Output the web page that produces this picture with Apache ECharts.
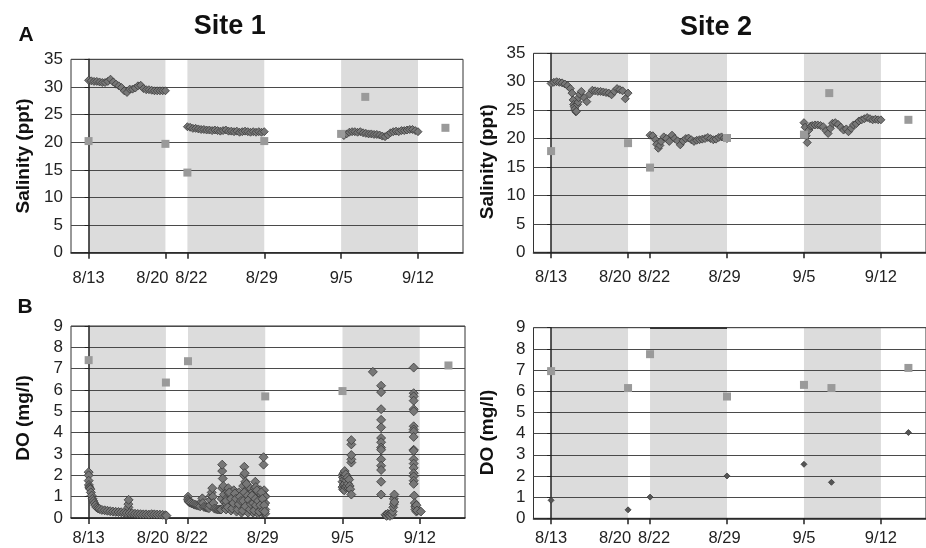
<!DOCTYPE html>
<html><head><meta charset="utf-8">
<script src="https://cdn.jsdelivr.net/npm/echarts@6/dist/echarts.min.js"></script>
<style>html,body{margin:0;padding:0;background:#fff}#c{width:926px;height:548px}</style>
</head><body><div id="c"></div>
<script>
// ---- tick days (days after 8/13) and labels ----
const tickDays = [0, 7, 9, 16, 23, 30];
const tickLabels = ['8/13', '8/20', '8/22', '8/29', '9/5', '9/12'];
// shaded deployment periods [startDay, endDay]
const shadeSpans = [[0, 7], [9, 16], [23, 30]];

// ---- Site 1 salinity ----
const site1SalLogger = [
[0,31.2],[0.25,31.1],[0.5,31.0],[0.75,31.0],[1.0,30.9],[1.25,30.8],[1.5,30.8],[1.75,31.0],[2.0,31.4],[2.25,30.9],[2.5,30.5],[2.75,30.2],[3.0,29.9],[3.25,29.3],[3.5,29.0],[3.75,29.6],[4.0,29.6],[4.25,29.8],[4.5,30.2],[4.75,30.3],[5.0,29.7],[5.25,29.5],[5.5,29.5],[5.75,29.4],[6.0,29.3],[6.25,29.3],[6.5,29.3],[6.75,29.3],[7.0,29.3],
[9,22.8],[9.25,22.7],[9.5,22.5],[9.75,22.5],[10,22.4],[10.25,22.3],[10.5,22.3],[10.75,22.2],[11,22.2],[11.25,22.1],[11.5,22.2],[11.75,22.1],[12,22.0],[12.25,22.1],[12.5,22.2],[12.75,22.0],[13,22.0],[13.25,21.9],[13.5,22.0],[13.75,21.8],[14,21.9],[14.25,22.0],[14.5,21.9],[14.75,21.8],[15,21.9],[15.25,21.8],[15.5,21.9],[15.75,21.8],[16,21.9],
[23.25,21.2],[23.5,21.5],[23.75,21.8],[24,21.9],[24.25,21.9],[24.5,21.8],[24.75,21.9],[25,21.7],[25.25,21.6],[25.5,21.5],[25.75,21.5],[26,21.4],[26.25,21.4],[26.5,21.3],[26.75,21.1],[27,21.0],[27.25,21.3],[27.5,21.7],[27.75,21.9],[28,22.0],[28.25,21.9],[28.5,22.1],[28.75,22.1],[29,22.2],[29.25,22.3],[29.5,22.3],[29.75,22.1],[30,21.9]
];
const site1SalSamples = [[0,20.2],[7,19.7],[9,14.5],[16,20.2],[23,21.5],[25.2,28.2],[32.5,22.6]];

// ---- Site 2 salinity ----
const site2SalLogger = [
[0,29.7],[0.25,29.9],[0.5,30.0],[0.75,29.9],[1.0,29.8],[1.25,29.6],[1.5,29.3],[1.75,28.8],[1.9,28.0],[2.0,26.8],[2.05,26.0],[2.1,25.6],[2.15,25.2],[2.25,24.7],[2.3,24.8],[2.4,26.0],[2.45,26.4],[2.5,27.2],[2.6,27.8],[2.75,28.3],[3.0,27.2],[3.25,26.5],[3.5,27.8],[3.75,28.5],[4.0,28.4],[4.25,28.3],[4.5,28.3],[4.75,28.2],[5.0,28.1],[5.25,28.0],[5.5,27.7],[5.75,28.3],[6.0,28.8],[6.25,28.6],[6.5,28.4],[6.75,27.0],[7.0,28.0],
[9,20.6],[9.25,20.5],[9.5,19.8],[9.6,19.0],[9.75,18.3],[9.9,18.8],[10,19.5],[10.25,20.3],[10.5,20.0],[10.75,19.5],[11,20.6],[11.25,20.0],[11.5,19.6],[11.75,18.9],[12,19.6],[12.25,20.0],[12.5,20.1],[12.75,19.8],[13,19.5],[13.25,19.7],[13.5,19.8],[13.75,19.9],[14,20.0],[14.25,20.2],[14.5,20.0],[14.75,19.8],[15,19.9],[15.25,20.2],[15.5,20.3],[15.75,20.1],[16,20.0],
[23,22.8],[23.1,22.0],[23.2,20.5],[23.3,19.3],[23.45,21.5],[23.6,22.2],[23.75,22.3],[24,22.4],[24.25,22.4],[24.5,22.3],[24.75,22.1],[25,21.4],[25.2,20.9],[25.4,21.8],[25.6,22.7],[25.85,22.8],[26.1,22.5],[26.35,22.0],[26.6,21.5],[26.85,21.7],[27.05,21.2],[27.3,21.8],[27.5,22.4],[27.75,22.6],[28,23.1],[28.25,23.3],[28.5,23.5],[28.75,23.7],[29,23.5],[29.25,23.3],[29.5,23.4],[29.75,23.3],[30,23.3]
];
const site2SalSamples = [[0,17.8],[7,19.2],[9,14.9],[16,20.1],[23,20.7],[25.3,28.0],[32.5,23.3]];

// ---- Site 1 dissolved oxygen ----
const site1DOLogger = [
[0,2.15],[0,2.0],[0,1.75],[0.02,1.55],[0.05,1.45],[0.1,1.4],[0.15,1.35],[0.2,1.2],[0.27,1.05],[0.35,0.9],[0.42,0.8],[0.5,0.7],[0.6,0.6],[0.72,0.5],[0.85,0.45],[1.0,0.42],[1.2,0.38],[1.45,0.36],[1.7,0.34],[1.95,0.32],[2.2,0.3],[2.45,0.29],[2.7,0.28],[2.95,0.27],[3.2,0.25],[3.45,0.24],[3.6,0.5],[3.6,0.65],[3.62,0.85],[3.7,0.23],[3.95,0.22],[4.2,0.2],[4.45,0.19],[4.7,0.18],[4.95,0.17],[5.2,0.17],[5.45,0.16],[5.7,0.18],[5.95,0.17],[6.2,0.16],[6.45,0.16],[6.7,0.15],[6.95,0.13],[7.05,0.11],
[9.0,1.0],[9.0,0.88],[9.03,0.8],[9.1,0.75],[9.2,0.72],[9.35,0.68],[9.5,0.65],[9.65,0.62],[9.8,0.6],[9.95,0.58],[10.1,0.55],[10.2,0.75],[10.3,0.92],[10.35,0.7],[10.45,0.52],[10.6,0.5],[10.75,0.48],[10.9,0.46],[11.0,0.6],[11.05,0.85],[11.1,1.05],[11.15,1.2],[11.2,1.4],[11.25,1.0],[11.3,0.7],[11.4,0.44],[11.55,0.42],[11.7,0.4],[11.85,0.4],[11.95,0.4],
[12.00,0.40],[12.05,0.90],[12.10,1.40],[12.1,2.2],[12.1,2.5],[12.15,1.85],[12.20,1.50],[12.25,1.10],[12.30,0.75],[12.35,0.55],[12.40,0.45],[12.45,0.40],
[12.50,0.65],[12.55,0.95],[12.60,1.25],[12.65,1.40],[12.70,1.15],[12.75,0.85],[12.80,0.60],[12.85,0.45],[12.90,0.35],
[12.95,0.60],[13.00,0.85],[13.05,1.10],[13.10,1.25],[13.15,1.30],[13.20,1.05],[13.25,0.80],[13.30,0.55],[13.35,0.40],[13.40,0.30],
[13.45,0.55],[13.50,0.85],[13.55,1.05],[13.60,1.20],[13.65,0.95],[13.70,0.70],[13.75,0.45],[13.80,0.30],[13.85,0.25],
[13.90,0.55],[13.95,1.00],[14.00,1.50],[14.05,2.00],[14.10,2.40],[14.15,2.10],[14.20,1.70],[14.25,1.30],[14.30,0.90],[14.35,0.60],[14.40,0.35],[14.45,0.25],
[14.50,0.55],[14.55,0.90],[14.60,1.20],[14.65,1.40],[14.70,1.15],[14.75,0.80],[14.80,0.50],[14.85,0.30],[14.90,0.25],
[14.95,0.60],[15.00,1.00],[15.05,1.40],[15.10,1.70],[15.15,1.45],[15.20,1.10],[15.25,0.70],[15.30,0.40],[15.35,0.20],
[15.40,0.45],[15.45,0.80],[15.50,1.10],[15.55,1.30],[15.60,1.10],[15.65,0.75],[15.70,0.45],[15.75,0.25],
[15.80,0.60],[15.85,1.00],[15.85,2.50],[15.85,2.85],[15.90,1.30],[15.95,1.05],[16.00,0.70],[16.00,1.00],[16.00,0.40],[16.00,0.20],
[12.45,0.8],[12.6,0.5],[12.75,1.2],[12.9,0.9],[13.0,0.45],[13.1,0.7],[13.25,1.15],[13.35,0.9],[13.5,0.4],[13.6,0.65],[13.7,1.0],[13.8,0.8],[13.95,0.35],[14.0,0.8],[14.1,1.2],[14.2,0.55],[14.3,1.6],[14.4,1.05],[14.5,0.85],[14.6,0.4],[14.7,0.65],[14.8,1.05],[14.9,0.7],[15.0,0.35],[15.1,0.9],[15.15,0.6],[15.25,1.3],[15.35,0.8],[15.45,0.3],[15.55,0.6],[15.65,1.2],[15.75,0.9],[15.8,0.35],[15.9,0.6],[15.95,0.3],
[23.0,1.7],[23.0,2.0],[23.0,1.45],[23.05,1.9],[23.05,1.35],[23.1,2.1],[23.1,1.55],[23.15,1.8],[23.15,1.3],[23.2,2.2],[23.2,1.6],[23.25,1.95],[23.3,1.45],[23.3,2.05],[23.35,1.75],[23.4,1.5],[23.45,1.9],[23.5,1.6],[23.55,1.4],[23.6,1.8],[23.65,1.5],[23.7,1.35],[23.8,1.1],[23.8,2.6],[23.8,2.75],[23.8,2.95],[23.8,3.45],[23.8,3.65],
[25.75,6.85],
[26.5,6.2],[26.5,5.9],[26.5,5.1],[26.5,4.6],[26.5,4.25],[26.5,3.75],[26.5,3.55],[26.5,3.3],[26.5,3.2],[26.5,2.75],[26.5,2.45],[26.5,2.25],[26.5,1.7],[26.5,1.1],
[26.9,0.15],[27.0,0.1],[27.1,0.2],[27.2,0.15],[27.3,0.1],[27.4,0.2],[27.5,0.15],[27.55,0.3],[27.6,0.5],[27.65,0.65],[27.65,0.9],[27.7,1.1],[27.7,0.75],
[29.45,7.05],[29.45,5.85],[29.45,5.7],[29.45,5.5],[29.45,5.1],[29.45,5.0],[29.45,4.3],[29.45,4.15],[29.45,4.05],[29.45,3.8],[29.45,3.2],[29.45,3.15],[29.45,2.75],[29.45,2.55],[29.45,2.35],[29.45,2.1],[29.45,1.95],[29.45,1.75],[29.45,1.6],[29.5,1.05],
[29.55,0.7],[29.6,0.55],[29.6,0.4],[29.65,0.5],[29.7,0.3],[29.7,0.6],[29.75,0.35],[30.1,0.3]
];
const site1DOSamples = [[0,7.4],[7,6.35],[9,7.35],[16,5.7],[23,5.95],[32.6,7.15]];

// ---- Site 2 dissolved oxygen ----
const site2DOLogger = [[0,0.85],[7,0.4],[9,1.0],[16,2.0],[23,2.55],[25.5,1.7],[32.5,4.05]];
const site2DOSamples = [[0,6.95],[7,6.15],[9,7.75],[16,5.75],[23,6.3],[25.5,6.15],[32.5,7.1]];

// ---------------- chart ----------------
const FONT = 'Liberation Sans, Arial, Helvetica, sans-serif';
const chart = echarts.init(document.getElementById('c'), null, {renderer: 'canvas'});

const grids = [
  {left: 71, top: 59.3, width: 392, height: 193.4},
  {left: 533.5, top: 53.3, width: 396, height: 199},
  {left: 71, top: 326, width: 394, height: 192},
  {left: 533.5, top: 327.7, width: 396, height: 190.6}
].map(g => Object.assign(g, {show: true, borderColor: '#333', borderWidth: 1, backgroundColor: 'transparent', z: 3}));

const richLabel = {
  s0: {}, s1: {padding: [0, 26, 0, 0]}, s2: {padding: [0, 0, 0, 8]}, s3: {padding: [0, 5, 0, 0]}, s4: {}, s5: {}
};
Object.keys(richLabel).forEach(k => Object.assign(richLabel[k], {fontSize: 16.5, color: '#222', fontFamily: FONT}));

function xAxisFor(i, margin) {
  return {
    gridIndex: i, type: 'value', min: -1.6, max: 34.1, z: 3,
    axisLine: {show: true, onZero: false, lineStyle: {color: '#222', width: 1.5}},
    axisTick: {show: true, customValues: tickDays, length: 6, lineStyle: {color: '#222', width: 1.5}},
    axisLabel: {
      customValues: tickDays, margin: margin, fontSize: 16.5, color: '#222', fontFamily: FONT,
      formatter: v => { const k = tickDays.indexOf(Math.round(v)); return k < 0 ? '' : '{s' + k + '|' + tickLabels[k] + '}'; },
      rich: richLabel
    },
    splitLine: {show: false}
  };
}
function yAxisFor(i, max, interval) {
  return {
    gridIndex: i, type: 'value', min: 0, max: max, interval: interval, z: 3,
    axisLine: {show: true, lineStyle: {color: '#222', width: 1.5}},
    axisTick: {show: true, length: 4, lineStyle: {color: '#222'}},
    axisLabel: {margin: 8, fontSize: 17, color: '#222', fontFamily: FONT},
    splitLine: {show: true, lineStyle: {color: '#4a4a4a', width: 1}}
  };
}

function shadeSeries(i) {
  return {
    type: 'custom', xAxisIndex: i, yAxisIndex: i, z: 1, silent: true,
    data: shadeSpans.map(s => [s[0], s[1], 0]),
    encode: {x: [0, 1], y: 2},
    renderItem: (params, api) => {
      const x0 = api.coord([api.value(0), 0])[0];
      const x1 = api.coord([api.value(1), 0])[0];
      const cs = params.coordSys;
      return {type: 'rect', shape: {x: x0, y: cs.y, width: x1 - x0, height: cs.height}, style: {fill: '#dcdcdc'}};
    }
  };
}
function loggerSeries(i, data, size, color) {
  return {
    type: 'scatter', xAxisIndex: i, yAxisIndex: i, z: 4, silent: true, symbol: 'diamond', symbolSize: size,
    data: data, itemStyle: {color: color || '#777', borderColor: '#3a3a3a', borderWidth: 0.8, opacity: 1}
  };
}
function sampleSeries(i, data, extra) {
  return Object.assign({
    type: 'scatter', xAxisIndex: i, yAxisIndex: i, z: 5, silent: true, symbol: 'rect', symbolSize: 8,
    data: data, itemStyle: {color: '#9a9a9a', opacity: 1}
  }, extra || {});
}

const option = {
  animation: false,
  backgroundColor: '#fff',
  textStyle: {fontFamily: FONT},
  grid: grids,
  xAxis: [xAxisFor(0, 17), xAxisFor(1, 17), xAxisFor(2, 12), xAxisFor(3, 12)],
  yAxis: [yAxisFor(0, 35, 5), yAxisFor(1, 35, 5), yAxisFor(2, 9, 1), yAxisFor(3, 9, 1)],
  series: [
    shadeSeries(0), shadeSeries(1), shadeSeries(2), shadeSeries(3),
    loggerSeries(0, site1SalLogger, 8),
    loggerSeries(1, site2SalLogger, 8),
    loggerSeries(2, site1DOLogger, 9),
    loggerSeries(3, site2DOLogger, 6, '#555'),
    sampleSeries(0, site1SalSamples),
    sampleSeries(1, site2SalSamples),
    sampleSeries(2, site1DOSamples),
    sampleSeries(3, site2DOSamples, {
      markLine: {silent: true, symbol: 'none', label: {show: false},
        lineStyle: {color: '#333', width: 2, type: 'solid'},
        data: [[{coord: [9, 9]}, {coord: [16, 9]}]]}
    })
  ],
  graphic: [
    {type: 'text', x: 229.7, y: 26.7, style: {text: 'Site 1', font: 'bold 27px ' + FONT, fill: '#111', textAlign: 'center', textVerticalAlign: 'middle'}},
    {type: 'text', x: 716, y: 27.7, style: {text: 'Site 2', font: 'bold 27px ' + FONT, fill: '#111', textAlign: 'center', textVerticalAlign: 'middle'}},
    {type: 'text', x: 26, y: 35.5, style: {text: 'A', font: 'bold 21px ' + FONT, fill: '#111', textAlign: 'center', textVerticalAlign: 'middle'}},
    {type: 'text', x: 25, y: 307.5, style: {text: 'B', font: 'bold 21px ' + FONT, fill: '#111', textAlign: 'center', textVerticalAlign: 'middle'}},
    {type: 'text', x: 23.5, y: 156, rotation: Math.PI / 2, style: {text: 'Salinity (ppt)', font: 'bold 19px ' + FONT, fill: '#111', textAlign: 'center', textVerticalAlign: 'middle'}},
    {type: 'text', x: 488, y: 161.7, rotation: Math.PI / 2, style: {text: 'Salinity (ppt)', font: 'bold 19px ' + FONT, fill: '#111', textAlign: 'center', textVerticalAlign: 'middle'}},
    {type: 'text', x: 23.5, y: 418, rotation: Math.PI / 2, style: {text: 'DO (mg/l)', font: 'bold 19px ' + FONT, fill: '#111', textAlign: 'center', textVerticalAlign: 'middle'}},
    {type: 'text', x: 488, y: 432.5, rotation: Math.PI / 2, style: {text: 'DO (mg/l)', font: 'bold 19px ' + FONT, fill: '#111', textAlign: 'center', textVerticalAlign: 'middle'}}
  ]
};
chart.setOption(option);
</script>
</body></html>
